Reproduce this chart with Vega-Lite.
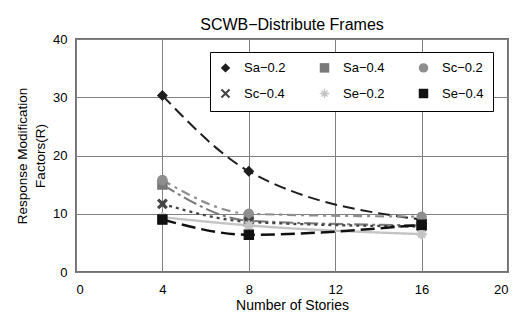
{
  "$schema": "https://vega.github.io/schema/vega-lite/v6.json",
  "autosize": {"type": "none"},
  "padding": {"left": 76, "top": 39, "right": 16, "bottom": 46},
  "width": 432,
  "height": 233,
  "background": "white",
  "title": {"text": "SCWB−Distribute Frames", "fontSize": 16, "fontWeight": "normal", "font": "Liberation Sans", "color": "#000", "offset": 0, "anchor": "middle"},
  "data": {"values": [
    {"series": "Sa−0.2", "stories": 4, "R": 30.3},
    {"series": "Sa−0.2", "stories": 8, "R": 17.3},
    {"series": "Sa−0.2", "stories": 16, "R": 9.0},
    {"series": "Sa−0.4", "stories": 4, "R": 15.0},
    {"series": "Sa−0.4", "stories": 8, "R": 8.8},
    {"series": "Sa−0.4", "stories": 16, "R": 8.0},
    {"series": "Sc−0.2", "stories": 4, "R": 15.8},
    {"series": "Sc−0.2", "stories": 8, "R": 10.0},
    {"series": "Sc−0.2", "stories": 16, "R": 9.5},
    {"series": "Sc−0.4", "stories": 4, "R": 11.7},
    {"series": "Sc−0.4", "stories": 8, "R": 8.6},
    {"series": "Sc−0.4", "stories": 16, "R": 7.8},
    {"series": "Se−0.2", "stories": 4, "R": 9.4},
    {"series": "Se−0.2", "stories": 8, "R": 8.0},
    {"series": "Se−0.2", "stories": 16, "R": 6.5},
    {"series": "Se−0.4", "stories": 4, "R": 9.0},
    {"series": "Se−0.4", "stories": 8, "R": 6.4},
    {"series": "Se−0.4", "stories": 16, "R": 8.1}
  ]},
  "encoding": {
    "x": {"field": "stories", "type": "quantitative", "scale": {"domain": [0, 20], "nice": false},
      "axis": {"values": [0, 4, 8, 12, 16, 20], "title": "Number of Stories", "grid": true, "gridColor": "#808080", "gridOpacity": 1, "domain": false, "ticks": false, "labelPadding": 11, "titlePadding": 2, "labelFontSize": 13, "titleFontSize": 14, "titleFontWeight": "normal", "labelColor": "#000", "titleColor": "#000", "labelFont": "Liberation Sans", "titleFont": "Liberation Sans"}},
    "y": {"field": "R", "type": "quantitative", "scale": {"domain": [0, 40], "nice": false},
      "axis": {"values": [0, 10, 20, 30, 40], "title": ["Response Modification", "Factors(R)"], "grid": true, "gridColor": "#808080", "gridOpacity": 1, "domain": false, "ticks": false, "labelPadding": 9, "titlePadding": 5, "labelFontSize": 13, "titleFontSize": 13.5, "titleFontWeight": "normal", "labelColor": "#000", "titleColor": "#000", "labelFont": "Liberation Sans", "titleFont": "Liberation Sans", "titleLineHeight": 18}}
  },
  "layer": [
    {
      "mark": {"type": "line", "interpolate": "monotone"},
      "encoding": {
        "stroke": {"field": "series", "type": "nominal", "scale": {"range": ["#1e1e1e", "#7a7a7a", "#8e8e8e", "#444444", "#c4c4c4", "#111111"]}, "legend": null},
        "strokeDash": {"field": "series", "type": "nominal", "scale": {"range": [[12, 6], [14, 4, 3, 4], [9, 5, 3, 5], [3, 4], [1, 0], [14, 6]]}, "legend": null},
        "strokeWidth": {"field": "series", "type": "nominal", "scale": {"range": [2, 2.5, 2.5, 2, 2.5, 2.5]}, "legend": null}
      }
    },
    {
      "mark": {"type": "point", "filled": false, "opacity": 1, "strokeWidth": 1.2, "size": 85},
      "encoding": {
        "stroke": {"field": "series", "type": "nominal", "legend": null},
        "fill": {"field": "series", "type": "nominal", "legend": null, "scale": {"range": ["#1e1e1e", "#7a7a7a", "#8e8e8e", "#444444", "#c4c4c4", "#111111"]}},
        "shape": {"field": "series", "type": "nominal", "title": null,
          "scale": {"range": [
            "diamond",
            "square",
            "circle",
            "M-1,-0.7L-0.7,-1L0,-0.3L0.7,-1L1,-0.7L0.3,0L1,0.7L0.7,1L0,0.3L-0.7,1L-1,0.7L-0.3,0Z",
            "M-1,-0.15L-0.15,-0.15L-0.15,-1L0.15,-1L0.15,-0.15L1,-0.15L1,0.15L0.15,0.15L0.15,1L-0.15,1L-0.15,0.15L-1,0.15ZM-0.75,-0.55L-0.55,-0.75L0,-0.2L0.55,-0.75L0.75,-0.55L0.2,0L0.75,0.55L0.55,0.75L0,0.2L-0.55,0.75L-0.75,0.55L-0.2,0Z",
            "square"]},
          "legend": {
            "orient": "none", "legendX": 134, "legendY": 13, "columns": 3, "direction": "horizontal",
            "strokeColor": "#000", "fillColor": "white", "padding": 9, "columnPadding": 30, "rowPadding": 9,
            "labelFontSize": 13, "labelFont": "Liberation Sans", "labelColor": "#000", "symbolSize": 90, "labelOffset": 12
          }
        }
      }
    }
  ],
  "config": {
    "view": {"stroke": "#707070", "strokeWidth": 2}
  }
}
